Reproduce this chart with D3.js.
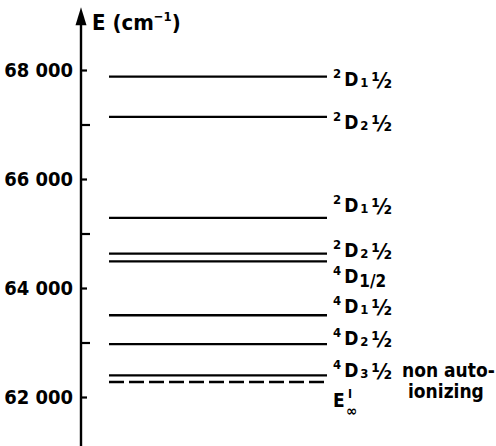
<!DOCTYPE html>
<html>
<head>
<meta charset="utf-8">
<script src="https://cdn.jsdelivr.net/npm/d3@7"></script>
<style>
  body { margin: 0; background: #fff; }
  svg { display: block; }
  text { font-family: "DejaVu Sans Condensed", "DejaVu Sans", sans-serif; font-weight: bold; fill: #000; }
</style>
</head>
<body>
<div class="chart"></div>
<script>
// energy levels (cm^-1), top to bottom
var energies = [67880, 67140, 65285, 64630, 64490, 63500, 62970, 62395];
var termMult = ["2", "2", "2", "2", "4", "4", "4", "4"];
var termJ    = ["1", "2", "1", "2", "1/2", "1", "2", "3"];
var termHalf = ["½", "½", "½", "½", "", "½", "½", "½"];
// ionization limit (dashed)
var limitE = 62275;
var majorTicks = [62000, 64000, 66000, 68000];
var minorTicks = [63000, 65000, 67000];

var width = 496, height = 446;
// label baseline shift from each line (px)
var labelShift = [9, 12, -6, 3, 22, -2, 1, 2];

var y = d3.scaleLinear().domain([62000, 68000]).range([397, 70]);
var axisX = 81, x0 = 109, x1 = 327, lx = 333;

var svg = d3.select(".chart").append("svg")
    .attr("width", width)
    .attr("height", height);

// vertical axis line + arrow
svg.append("line")
    .attr("x1", axisX).attr("x2", axisX)
    .attr("y1", y(69000)).attr("y2", height)
    .attr("stroke", "#000").attr("stroke-width", 2.4);
svg.append("path")
    .attr("d", "M" + axisX + "," + y(69150) + "L" + (axisX - 5.5) + "," + (y(69150) + 18) +
               "L" + (axisX + 5.5) + "," + (y(69150) + 18) + "Z")
    .attr("fill", "#000");

var fmt = d3.formatLocale({decimal: ".", thousands: " ", grouping: [3], currency: ["", ""]}).format(",");

var major = d3.axisLeft(y)
    .tickValues(majorTicks)
    .tickSizeInner(-6)
    .tickSizeOuter(0)
    .tickPadding(8)
    .tickFormat(fmt);
var gMaj = svg.append("g")
    .attr("transform", "translate(" + axisX + ",0)")
    .call(major);
gMaj.select(".domain").remove();
gMaj.selectAll("line").attr("stroke", "#000").attr("stroke-width", 2.2);
gMaj.selectAll("text")
    .attr("font-family", "DejaVu Sans Condensed")
    .attr("font-weight", "bold")
    .attr("font-size", 20)
    .attr("fill", "#000");

var minor = d3.axisLeft(y)
    .tickValues(minorTicks)
    .tickSizeInner(-9)
    .tickSizeOuter(0)
    .tickFormat("");
var gMin = svg.append("g")
    .attr("transform", "translate(" + axisX + ",0)")
    .call(minor);
gMin.select(".domain").remove();
gMin.selectAll("line").attr("stroke", "#000").attr("stroke-width", 2.2);

// axis title
var title = svg.append("text").attr("x", 92).attr("y", 30).attr("font-size", 22);
title.append("tspan").text("E (cm");
title.append("tspan").attr("font-size", 13).attr("dy", -9).text("−1");
title.append("tspan").attr("dy", 9).text(")");

// level lines
svg.selectAll(".level")
    .data(energies)
  .enter().append("line")
    .attr("class", "level")
    .attr("x1", x0).attr("x2", x1)
    .attr("y1", function(d) { return y(d); })
    .attr("y2", function(d) { return y(d); })
    .attr("stroke", "#000").attr("stroke-width", 2.3);

svg.append("line")
    .attr("x1", x0).attr("x2", x1)
    .attr("y1", y(limitE)).attr("y2", y(limitE))
    .attr("stroke", "#000").attr("stroke-width", 2.3)
    .attr("stroke-dasharray", "15,5");

// term labels
energies.forEach(function(e, i) {
  var base = y(e) + labelShift[i];
  var t = svg.append("text").attr("x", lx).attr("y", base).attr("font-size", 19);
  t.append("tspan").attr("font-size", 13).attr("dy", -8).text(termMult[i]);
  t.append("tspan").attr("dx", 3).attr("dy", 8).text("D");
  if (termJ[i] == "1/2") {
    t.append("tspan").attr("font-size", 17).attr("dx", 1).attr("dy", 4).text("1/2");
  } else {
    t.append("tspan").attr("font-size", 13).attr("dx", 2).attr("dy", 1).text(termJ[i]);
    t.append("tspan").attr("font-size", 22).attr("dx", 3).attr("dy", 1).text(termHalf[i]);
  }
});

// ionization limit label
var eBase = y(limitE) + 25;
svg.append("text").attr("x", lx).attr("y", eBase).attr("font-size", 19).text("E");
svg.append("text").attr("x", lx + 15).attr("y", eBase - 9).attr("font-size", 12).text("I");
svg.append("text").attr("x", lx + 13).attr("y", eBase + 9).attr("font-size", 15).text("∞");

svg.append("text").attr("x", 402).attr("y", y(limitE) - 5).attr("font-size", 19).text("non auto-");
svg.append("text").attr("x", 408).attr("y", y(limitE) + 16).attr("font-size", 19).text("ionizing");
</script>
</body>
</html>
